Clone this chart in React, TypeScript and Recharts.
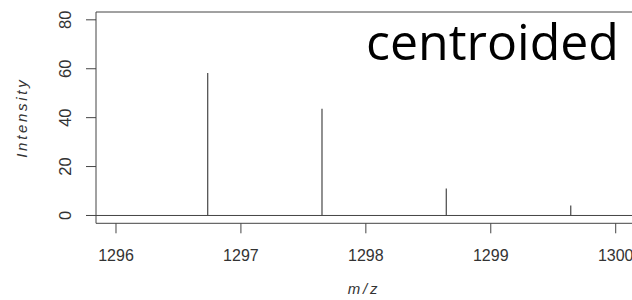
import { ComposedChart, Bar, XAxis, YAxis, ReferenceLine } from 'recharts'

// centroided peaks (m/z, intensity)
const mz = [1296.73, 1297.645, 1298.64, 1299.636]
const intensity = [58.3, 43.6, 11.0, 4.1]
const xTicks = [1296, 1297, 1298, 1299, 1300]
const yTicks = [0, 20, 40, 60, 80]

const data = mz.map((m, i) => ({ mz: m, intensity: intensity[i] }))

const INK = '#444'
const LABEL = '#333'
const FONT = '"Liberation Sans", Arial, sans-serif'
const X_DOMAIN = [1295.84, 1300.16]
const Y_DOMAIN = [-3.2, 83.2]

const XTick = ({ x, y, payload }: any) => (
  <text x={x} y={y} dy="0.71em" textAnchor="middle" fontFamily={FONT} fontSize={16} fill={LABEL}>
    {payload.value}
  </text>
)

const YTick = ({ x, y, payload }: any) => (
  <text
    x={x}
    y={y}
    textAnchor="middle"
    transform={`rotate(-90, ${x}, ${y})`}
    fontFamily={FONT}
    fontSize={16.5}
    fill={LABEL}
  >
    {payload.value}
  </text>
)

export default function App() {
  return (
    <div
      style={{
        position: 'fixed',
        left: 0,
        top: 0,
        width: 632,
        height: 300,
        overflow: 'hidden',
        background: '#fff',
      }}
    >
      <ComposedChart
        width={700}
        height={300}
        data={data}
        margin={{ top: 12, right: 64.3, bottom: 36.7, left: 36 }}
      >
        <XAxis
          dataKey="mz"
          type="number"
          domain={X_DOMAIN}
          ticks={xTicks}
          allowDataOverflow
          height={40}
          tickSize={10}
          tickMargin={16}
          stroke={INK}
          tick={<XTick />}
        />
        <YAxis
          type="number"
          domain={Y_DOMAIN}
          ticks={yTicks}
          allowDataOverflow
          width={60}
          tickSize={10}
          tickMargin={15}
          stroke={INK}
          tick={<YTick />}
        />
        {/* top edge of the plot frame */}
        <ReferenceLine y={Y_DOMAIN[1]} stroke={INK} ifOverflow="visible" />
        <ReferenceLine y={0} stroke={INK} strokeWidth={1} />
        <Bar dataKey="intensity" barSize={1.3} fill="#555" isAnimationActive={false} />
      </ComposedChart>
      <svg
        width={632}
        height={300}
        style={{ position: 'absolute', left: 0, top: 0, pointerEvents: 'none' }}
      >
        <text
          x={27.4}
          y={117.7}
          transform="rotate(-90, 27.4, 117.7)"
          textAnchor="middle"
          fontFamily={FONT}
          fontStyle="italic"
          fontSize={15}
          letterSpacing={2.7}
          fill={LABEL}
        >
          Intensity
        </text>
        <text
          x={364}
          y={294}
          textAnchor="middle"
          fontFamily={FONT}
          fontStyle="italic"
          fontSize={15}
          letterSpacing={2.7}
          fill={LABEL}
        >
          m/z
        </text>
        <text x={366} y={60} fontFamily='"Open Sans", sans-serif' fontSize={50} fill="#000">
          centroided
        </text>
      </svg>
    </div>
  )
}
